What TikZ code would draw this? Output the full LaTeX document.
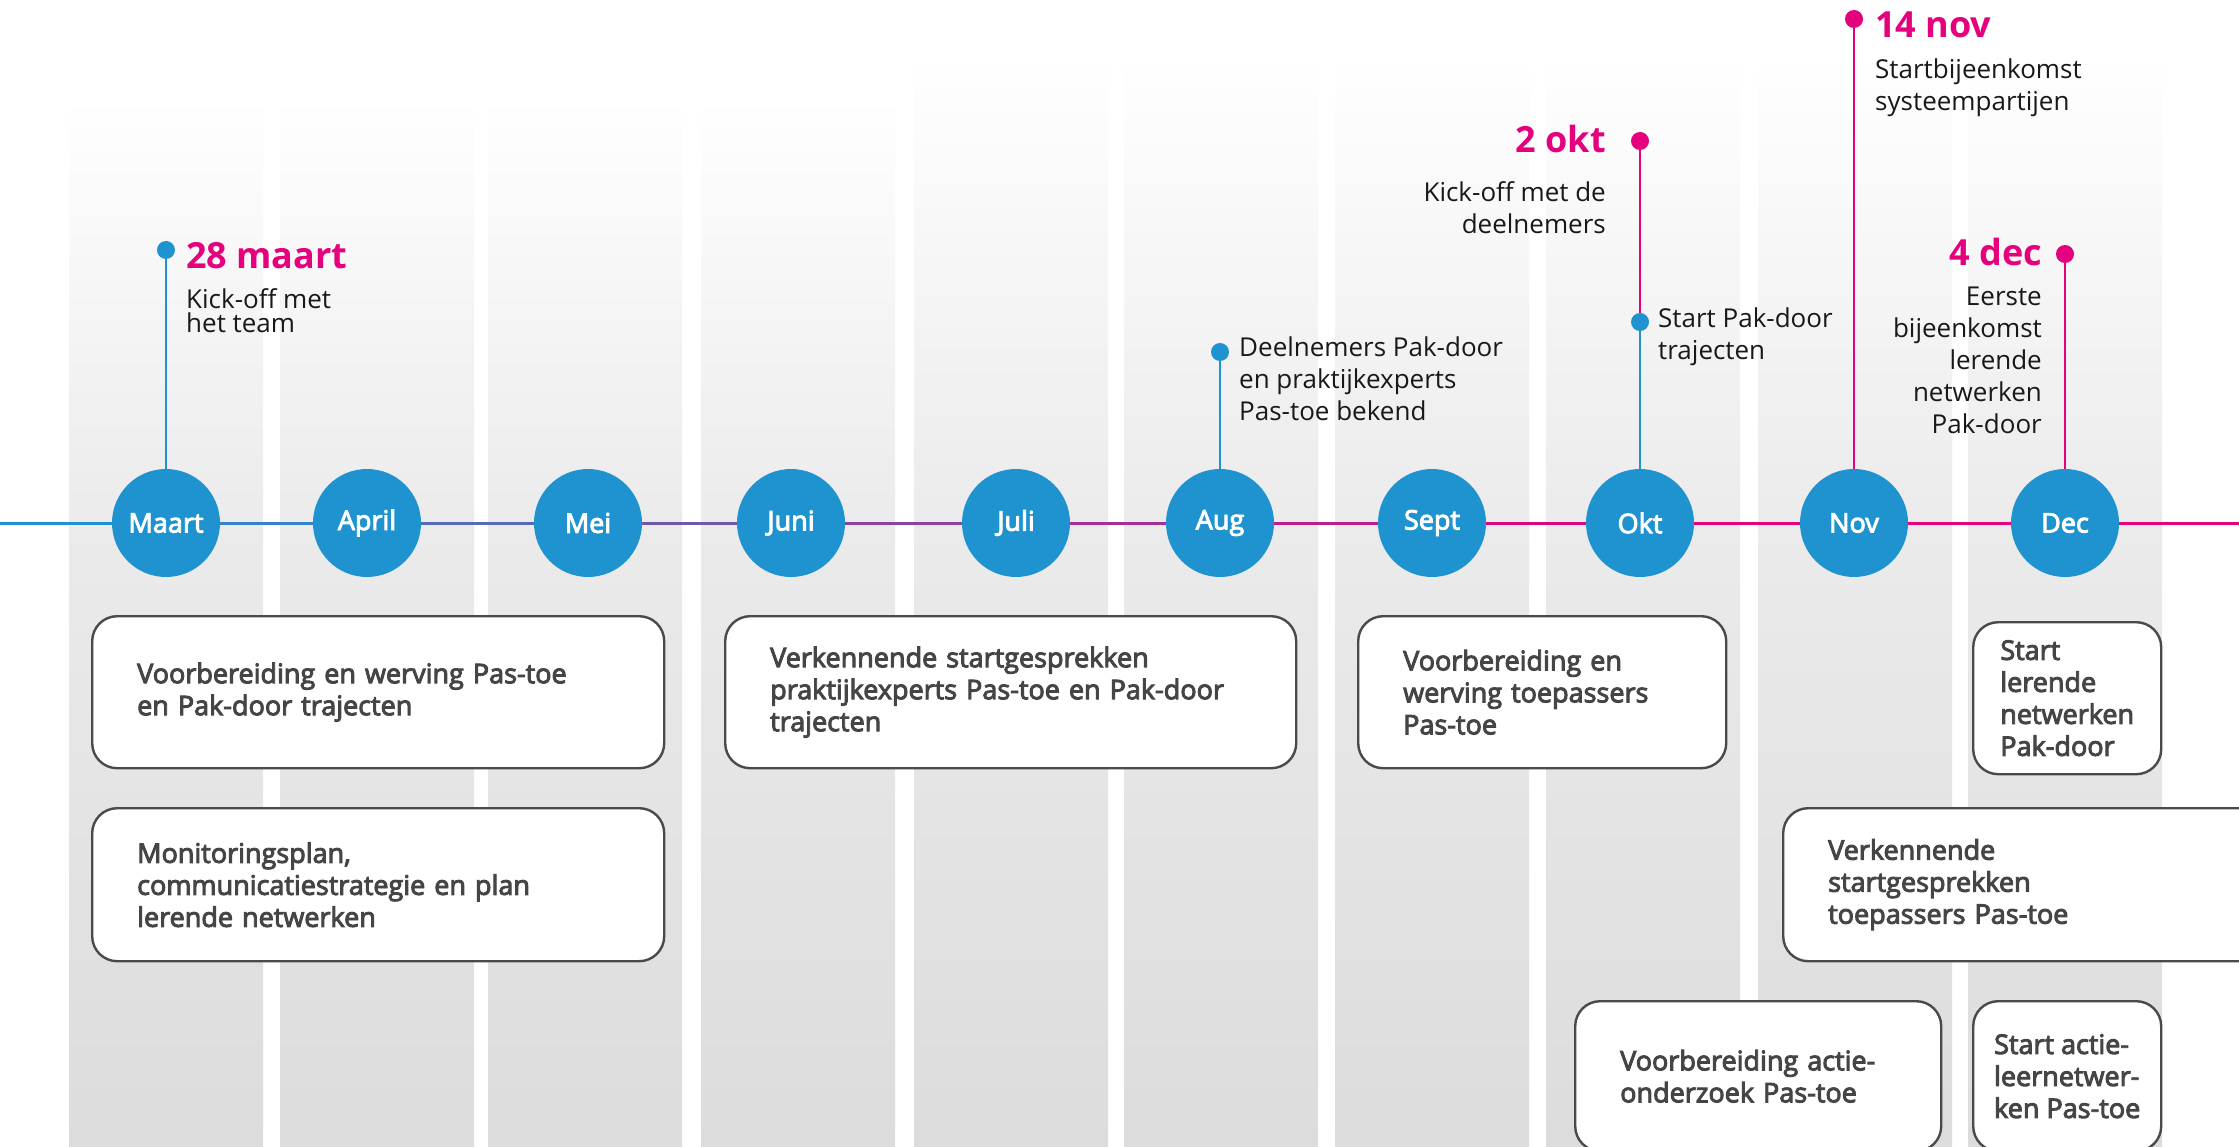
\documentclass[tikz,border=0pt]{standalone}
\usepackage{fontspec}
\setmainfont{Open Sans}
\newfontfamily\semib[FakeBold=3.5]{Open Sans}
\definecolor{tlblue}{HTML}{1F93D0}
\definecolor{tlpink}{HTML}{E5007D}
\definecolor{boxtext}{HTML}{454545}
\definecolor{boxline}{HTML}{4A4A4A}
\definecolor{colmid}{HTML}{EBEBEB}
\definecolor{colbot}{HTML}{DCDCDC}
\tikzset{
  month/.style={circle, fill=tlblue, minimum size=108pt, inner sep=0pt, text=white, font=\semib\fontsize{27}{30}\selectfont},
  evdot/.style={circle, fill=#1, minimum size=18pt, inner sep=0pt},
  stem/.style={line width=2pt, draw=#1},
  datum/.style={text=tlpink, font=\bfseries\fontsize{36}{40}\selectfont, inner sep=0pt},
  event/.style={font=\fontsize{26}{32}\selectfont, inner sep=0pt, text=black!90},
  taskbox/.style={draw=boxline, line width=2.4pt, fill=white, rounded corners=25pt, align=left, text=boxtext, font=\semib\fontsize{27}{32}\selectfont},
}
\begin{document}
\begin{tikzpicture}[x=1pt, y=-1pt]
\useasboundingbox (0,0) rectangle (2239,1147);
\clip (0,0) rectangle (2239,1147);
\fill[white] (0,0) rectangle (2239,1147);
\foreach \l/\t in {69/97, 280/97, 488/97, 701/97, 914/54, 1124/54, 1335/54, 1546/54, 1758/54, 1968/54} {
  \shade[top color=white, bottom color=colmid] (\l,\t) rectangle (\l+194,524);
  \shade[top color=colmid, bottom color=colbot] (\l,523) rectangle (\l+194,1147);
}
\foreach \name/\lbl/\x in {maart/Maart/166, april/April/367, mei/Mei/588, juni/Juni/791, juli/Juli/1016, aug/Aug/1220, sept/Sept/1432, okt/Okt/1640, nov/Nov/1854, dec/Dec/2065}
  \node[month] (\name) at (\x,523) {\lbl};
\coordinate (tlstart) at (0,523);
\coordinate (tlend) at (2239,523);
\foreach \a/\b/\c in {tlstart/maart/100, maart/april/88, april/mei/72, mei/juni/58, juni/juli/45, juli/aug/32, aug/sept/18, sept/okt/5, okt/nov/0, nov/dec/0, dec/tlend/0}
  \draw[line width=3pt, tlblue!\c!tlpink] (\a) -- (\b);

\node[evdot=tlblue] (d1) at (166,250) {};
\draw[stem=tlblue] (d1) -- (maart);
\node[datum, anchor=base west] (t1) at (186,269) {28 maart};
\node[event, anchor=north west, align=left, font=\fontsize{26}{24}\selectfont] (e1) at (186,288) {Kick-off met\\het team};

\node[evdot=tlblue] (d2) at (1220,352) {};
\draw[stem=tlblue] (d2) -- (aug);
\node[event, anchor=north west, align=left] (e2) at (1239,337) {Deelnemers Pak-door\\en praktijkexperts\\Pas-toe bekend};

\node[evdot=tlpink] (d3) at (1640,141) {};
\node[evdot=tlblue] (d3b) at (1640,322) {};
\draw[stem=tlpink] (d3) -- (d3b);
\draw[stem=tlblue] (d3b) -- (okt);
\node[datum, anchor=base east] (t3) at (1606,153) {2 okt};
\node[event, anchor=north east, align=right] (e3) at (1606,181) {Kick-off met de\\deelnemers};
\node[event, anchor=north west, align=left] (e3b) at (1658,308) {Start Pak-door\\trajecten};

\node[evdot=tlpink] (d4) at (1854,19) {};
\draw[stem=tlpink] (d4) -- (nov);
\node[datum, anchor=base west] (t4) at (1875,38) {14 nov};
\node[event, anchor=north west, align=left] (e4) at (1875,59) {Startbijeenkomst\\systeempartijen};

\node[evdot=tlpink] (d5) at (2065,254) {};
\draw[stem=tlpink] (d5) -- (dec);
\node[datum, anchor=base east] (t5) at (2042,266) {4 dec};
\node[event, anchor=north east, align=right] (e5) at (2042,287) {Eerste\\bijeenkomst\\lerende\\netwerken\\Pak-door};

\node[taskbox, anchor=north west, inner xsep=45pt, text width=482pt, minimum height=152pt] (werving) at (91,615) {Voorbereiding en werving Pas-toe\\en Pak-door trajecten};
\node[taskbox, anchor=north west, inner xsep=45pt, text width=482pt, minimum height=153pt] (plan) at (91,807) {Monitoringsplan,\\communicatiestrategie en plan\\lerende netwerken};
\node[taskbox, anchor=north west, inner xsep=45pt, text width=481pt, minimum height=152pt] (gesprek) at (724,615) {Verkennende startgesprekken\\praktijkexperts Pas-toe en Pak-door\\trajecten};
\node[taskbox, anchor=north west, inner xsep=45pt, text width=278pt, minimum height=152pt] (toepas) at (1357,615) {Voorbereiding en\\werving toepassers\\Pas-toe};
\node[taskbox, anchor=north west, inner xsep=0pt, minimum width=188pt, minimum height=152pt] (lerend) at (1972,621) {Start\\lerende\\netwerken\\Pak-door};
\node[taskbox, anchor=north west, inner xsep=45pt, text width=482pt, minimum height=153pt] (gesprek2) at (1782,807) {Verkennende\\startgesprekken\\toepassers Pas-toe};
\node[taskbox, anchor=north west, inner xsep=45pt, text width=276pt, minimum height=150pt] (onderzoek) at (1574,1000) {Voorbereiding actie-\\onderzoek Pas-toe};
\node[taskbox, anchor=north west, inner xsep=0pt, minimum width=188pt, minimum height=150pt] (actie) at (1972,1000) {Start actie-\\leernetwer-\\ken Pas-toe};
\end{tikzpicture}
\end{document}
